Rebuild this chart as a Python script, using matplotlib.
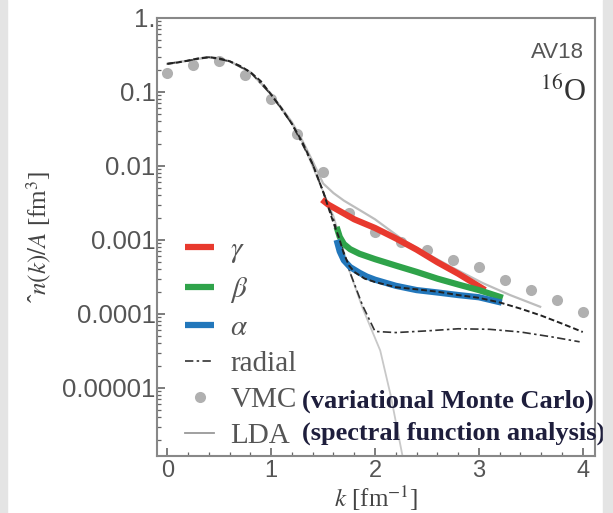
import matplotlib.pyplot as plt
from matplotlib.ticker import FixedLocator, FixedFormatter, MultipleLocator, LogLocator, NullFormatter
from matplotlib.lines import Line2D
from matplotlib.patches import Rectangle

plt.rcParams['mathtext.fontset'] = 'stix'

# VMC points (grey dots)
vmc_k = [0, 0.25, 0.5, 0.75, 1.0, 1.25, 1.5, 1.75, 2.0, 2.25, 2.5, 2.75, 3.0, 3.25, 3.5, 3.75, 4.0]
vmc_n = [0.18, 0.23, 0.26, 0.17, 0.08, 0.027, 0.0083, 0.0023, 0.0013, 0.00095, 0.00074,
         0.00054, 0.00043, 0.00029, 0.00021, 0.000155, 0.000107]

# full momentum distribution (black dashed)
full_k = [0, 0.1, 0.2, 0.3, 0.4, 0.5, 0.6, 0.7, 0.8, 0.9, 1.0, 1.1, 1.2, 1.3, 1.4, 1.5, 1.6,
          1.65, 1.7, 1.75, 1.8, 1.9, 2.0, 2.2, 2.4, 2.6, 2.8, 3.0, 3.2, 3.4, 3.6, 3.8, 4.0]
full_n = [0.24, 0.25, 0.265, 0.285, 0.295, 0.285, 0.26, 0.225, 0.185, 0.14, 0.092, 0.06, 0.037,
          0.021, 0.0105, 0.0045, 0.0017, 0.0011, 0.00065, 0.00045, 0.00037, 0.0003, 0.00027,
          0.00023, 0.000215, 0.0002, 0.00018, 0.000165, 0.000143, 0.000118, 9.5e-5, 7.4e-5, 5.7e-5]

# radial (dash-dot)
radial_k = [0, 0.2, 0.4, 0.6, 0.8, 1.0, 1.2, 1.4, 1.5, 1.6, 1.76, 1.88, 2.0, 2.2, 2.5, 2.8,
            3.1, 3.4, 3.7, 3.97]
radial_n = [0.24, 0.265, 0.295, 0.26, 0.185, 0.092, 0.037, 0.0105, 0.0045, 0.0019, 0.00036,
            0.00013, 5.8e-5, 5.6e-5, 5.9e-5, 6.3e-5, 6.2e-5, 5.7e-5, 4.9e-5, 4.2e-5]

# LDA (light grey), upper branch and mean-field branch
lda_k = [0, 0.2, 0.4, 0.6, 0.8, 1.0, 1.2, 1.3, 1.4, 1.5, 1.6, 1.7, 1.88, 2.0, 2.27, 2.5,
         2.75, 3.04, 3.3, 3.59]
lda_n = [0.24, 0.265, 0.295, 0.26, 0.185, 0.094, 0.039, 0.022, 0.0115, 0.0058, 0.0043, 0.0034,
         0.0024, 0.0019, 0.001, 0.00065, 0.00042, 0.00026, 0.00018, 0.000125]
mf_k = [0, 0.2, 0.4, 0.6, 0.8, 1.0, 1.2, 1.3, 1.5, 1.6, 1.76, 1.88, 2.05, 2.15, 2.27, 2.35]
mf_n = [0.24, 0.265, 0.295, 0.26, 0.185, 0.092, 0.037, 0.021, 0.0045, 0.0021, 0.00036,
        0.00012, 3.2e-5, 8e-6, 1.1e-6, 3e-7]

# gamma / beta / alpha
gam_k = [1.49, 1.55, 1.65, 1.8, 2.0, 2.2, 2.4, 2.6, 2.8, 3.06]
gam_n = [0.0035, 0.003, 0.0025, 0.0019, 0.00145, 0.00105, 0.00074, 0.0005, 0.00035, 0.00021]
bet_k = [1.63, 1.66, 1.7, 1.76, 1.85, 2.0, 2.2, 2.4, 2.6, 2.8, 3.0, 3.23]
bet_n = [0.0015, 0.0011, 0.00088, 0.00075, 0.00065, 0.00055, 0.00045, 0.00037, 0.0003,
         0.00025, 0.00021, 0.000165]
alp_k = [1.63, 1.66, 1.7, 1.76, 1.85, 1.92, 2.0, 2.2, 2.4, 2.6, 2.8, 3.0, 3.22]
alp_n = [0.001, 0.0007, 0.00053, 0.00043, 0.00036, 0.00032, 0.00029, 0.00024, 0.00021,
         0.000195, 0.00018, 0.000168, 0.000142]

y_ticks = [1, 0.1, 0.01, 0.001, 0.0001, 0.00001]
y_labels = ['1.', '0.1', '0.01', '0.001', '0.0001', '0.00001']

red = '#e8392e'
green = '#2fa34a'
blue = '#2277bb'
grey = '#b0b0b0'

fig = plt.figure(figsize=(6.13, 5.13), dpi=100)
fig.patches.append(Rectangle((0, 0), 0.012, 1, transform=fig.transFigure, color='#e4e4e4', zorder=0))
fig.patches.append(Rectangle((0.984, 0), 0.016, 1, transform=fig.transFigure, color='#e4e4e4', zorder=0))
ax = fig.add_axes([0.256, 0.111, 0.715, 0.854])

ax.plot(mf_k, mf_n, color='#c8c8c8', lw=1.3, zorder=1)
ax.plot(lda_k, lda_n, color='#bdbdbd', lw=1.6, zorder=1)
ax.plot(vmc_k, vmc_n, 'o', color=grey, ms=8, mec='none', zorder=2)
ax.plot(radial_k, radial_n, color='#333333', lw=1.2, dashes=(5, 2, 1.5, 2), zorder=3)
ax.plot(gam_k, gam_n, color=red, lw=4.5, solid_capstyle='butt', zorder=4)
ax.plot(bet_k, bet_n, color=green, lw=4.5, solid_capstyle='butt', zorder=4)
ax.plot(alp_k, alp_n, color=blue, lw=4.5, solid_capstyle='butt', zorder=4)
ax.plot(full_k, full_n, color='#222222', lw=1.4, dashes=(3, 1.5), zorder=5)

ax.set_yscale('log')
ax.set_xlim(-0.1, 4.12)
ax.set_ylim(1.2e-6, 1)

ax.yaxis.set_major_locator(FixedLocator(y_ticks))
ax.yaxis.set_major_formatter(FixedFormatter(y_labels))
ax.yaxis.set_minor_locator(LogLocator(base=10, subs=range(2, 10), numticks=20))
ax.yaxis.set_minor_formatter(NullFormatter())
ax.xaxis.set_major_locator(MultipleLocator(1))
ax.xaxis.set_minor_locator(MultipleLocator(0.2))

ax.tick_params(which='both', direction='in', top=False, right=False, colors='#666666',
               labelcolor='#555555', labelfontfamily='Liberation Sans')
ax.tick_params(which='major', length=6, width=1.2)
ax.tick_params(which='minor', length=3, width=0.9)
ax.tick_params(axis='y', labelsize=18.5, pad=1)
ax.tick_params(axis='x', labelsize=17, pad=3)
for s in ax.spines.values():
    s.set_color('#888888')
    s.set_linewidth(1.5)

ax.set_xlabel(r'$k$ [fm$^{-1}$]', fontsize=18, family='Liberation Serif', color='#444444', labelpad=1)
ax.set_ylabel(r'ˆ$n(k)/A$ [fm$^3$]', fontsize=18, family='Liberation Serif', color='#444444', labelpad=6)

ax.text(0.975, 0.922, 'AV18', transform=ax.transAxes, ha='right', va='center',
        fontsize=16, family='Liberation Sans', color='#555555')
ax.text(0.98, 0.83, r'$^{16}$O', transform=ax.transAxes, ha='right', va='center',
        fontsize=22, family='Liberation Serif', color='#333333')

handles = [
    Line2D([], [], color=red, lw=4.5, solid_capstyle='butt'),
    Line2D([], [], color=green, lw=4.5, solid_capstyle='butt'),
    Line2D([], [], color=blue, lw=4.5, solid_capstyle='butt'),
    Line2D([], [], color='#333333', lw=1.2, dashes=(5, 2, 1.5, 2)),
    Line2D([], [], ls='none', marker='o', color=grey, ms=8, mec='none'),
    Line2D([], [], color='#999999', lw=1.3),
]
labels = [r'$\gamma$', r'$\beta$', r'$\alpha$', 'radial', 'VMC', 'LDA']
leg = ax.legend(handles, labels, loc='lower left', bbox_to_anchor=(0.064, 0.016), frameon=False,
                prop={'family': 'Liberation Serif', 'size': 21}, handlelength=1.0,
                handletextpad=0.55, labelspacing=0.33, borderpad=0, borderaxespad=0)
for t in leg.get_texts():
    t.set_color('#555555')

ax.text(0.331, 0.125, '(variational Monte Carlo)', transform=ax.transAxes, ha='left', va='center',
        fontsize=19, family='Liberation Serif', weight='bold', color='#1e1e3c', clip_on=False)
ax.text(0.331, 0.053, '(spectral function analysis)', transform=ax.transAxes, ha='left', va='center',
        fontsize=19, family='Liberation Serif', weight='bold', color='#1e1e3c', clip_on=False)

fig.savefig('out.png', dpi=100)
